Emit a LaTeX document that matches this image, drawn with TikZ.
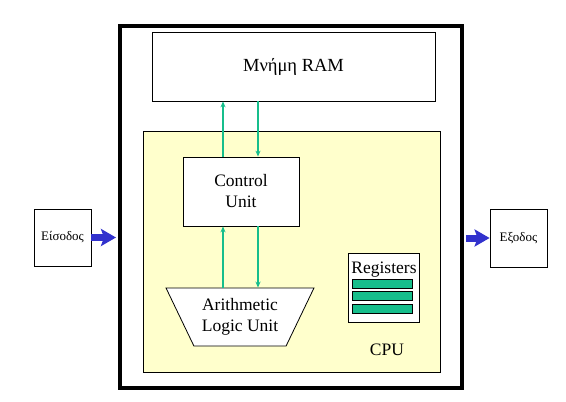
\documentclass[tikz,border=0pt]{standalone}
\usepackage{fontspec}
\setmainfont{Liberation Serif}
\newfontfamily\diagfont{Liberation Serif}
\usetikzlibrary{arrows.meta, shapes.geometric}

\definecolor{cpuyellow}{RGB}{255,255,204}
\definecolor{busgreen}{RGB}{22,190,140}
\definecolor{ioblue}{RGB}{50,50,205}

\begin{document}
\begin{tikzpicture}[
        x=1pt, y=-1pt,
        box/.style={draw, line width=0.8pt, inner sep=0pt, align=center},
        bigtext/.style={font=\diagfont\fontsize{17.5}{21}\selectfont},
        smalltext/.style={font=\diagfont\fontsize{13}{15}\selectfont},
        regbar/.style={draw, line width=0.8pt, fill=busgreen, inner sep=0pt, minimum width=60pt, minimum height=9pt},
        bus/.style={busgreen, line width=1.6pt, -{Stealth[length=6pt, width=5pt]}},
        ioarrow/.style={ioblue, line width=7pt, -{Stealth[length=15pt, width=17pt, inset=3pt]}}
    ]

    \useasboundingbox (0,0) rectangle (566,402);

    \node (comp) [draw, line width=4pt, minimum width=342pt, minimum height=362pt] at (291,207) {};
    \node (ram) [box, minimum width=283pt, minimum height=69pt, font=\diagfont\fontsize{18.5}{21}\selectfont] at (293.5,66.5) {Μνήμη RAM};
    \node (cpu) [box, fill=cpuyellow, minimum width=297.5pt, minimum height=240.5pt] at (291.75,251.75) {};
    \node (ctrl) [box, bigtext, fill=white, minimum width=116pt, minimum height=69pt] at (241,191.5) {Control\\Unit};
    \node (alu) [box, bigtext, fill=white, trapezium, trapezium left angle=122, trapezium right angle=122,
        trapezium stretches=true, minimum width=148pt, minimum height=58pt] at (240,317) {Arithmetic\\Logic Unit};
    \node (regs) [box, fill=white, minimum width=71.5pt, minimum height=69pt] at (383.75,287.5) {};
    \node (regslbl) [bigtext, inner sep=0pt, anchor=base] at (384,273) {Registers};
    \foreach \i/\y in {1/283.5, 2/296, 3/308.5}
        \node (bar\i) [regbar] at (382,\y) {};
    \node (cpulbl) [bigtext, inner sep=0pt, anchor=base] at (387,355) {CPU};

    \node (in) [box, smalltext, minimum width=57pt, minimum height=57pt] at (62.5,237.5) {Είσοδος};
    \node (out) [box, smalltext, minimum width=57pt, minimum height=58pt] at (518.5,238) {Εξοδος};

    \draw [bus] ([xshift=-18pt]ctrl.north) -- ([xshift=-18pt]ctrl.north |- ram.south);
    \draw [bus] ([xshift=17pt]ctrl.north |- ram.south) -- ([xshift=17pt]ctrl.north);
    \draw [bus] ([xshift=-18pt]ctrl.south |- alu.north) -- ([xshift=-18pt]ctrl.south);
    \draw [bus] ([xshift=17pt]ctrl.south) -- ([xshift=17pt]ctrl.south |- alu.north);

    \draw [ioarrow] (in.east) -- ([xshift=-2pt]in.east -| comp.west);
    \draw [ioarrow] ([xshift=2pt]out.west -| comp.east) -- (out.west);

\end{tikzpicture}
\end{document}
